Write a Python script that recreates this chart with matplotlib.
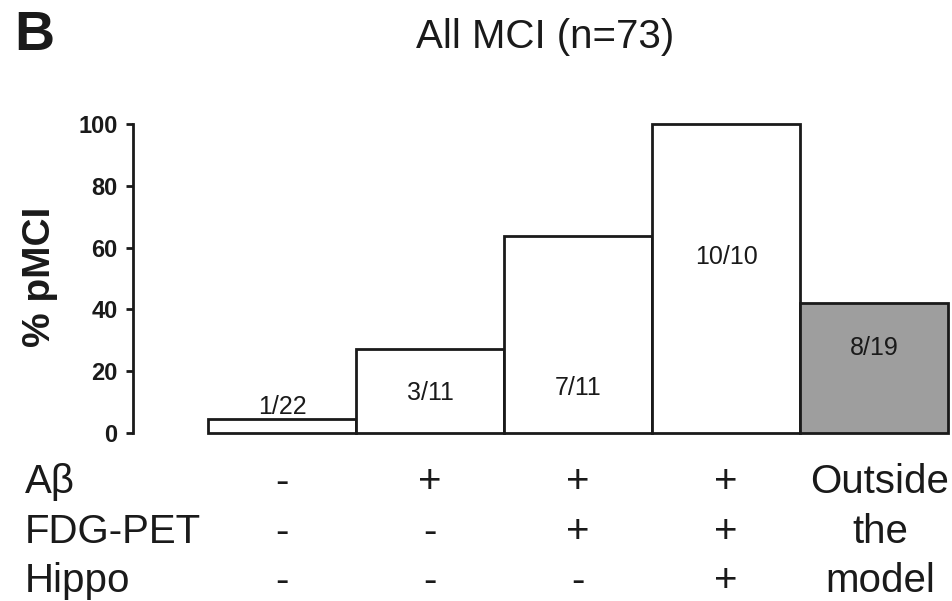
import numpy as np
import matplotlib
matplotlib.use('Agg')
import matplotlib.pyplot as plt
import matplotlib.transforms as transforms

plt.rcParams['font.family'] = ['Liberation Sans', 'DejaVu Sans']

##===========================================
# Data
##===========================================
groups = ['g1', 'g2', 'g3', 'g4', 'outside']
counts = ['1/22', '3/11', '7/11', '10/10', '8/19']
pct = [100 * 1 / 22, 100 * 3 / 11, 100 * 7 / 11, 100 * 10 / 10, 100 * 8 / 19]
label_y = [8.5, 13, 14.5, 57, 27.5]          # where the count text sits (% units)
bar_colors = ['white', 'white', 'white', 'white', '#9e9e9e']

row_names = ['A\u03b2', 'FDG-PET', 'Hippo']
amyloid = ['-', '+', '+', '+']
fdg = ['-', '-', '+', '+']
hippo = ['-', '-', '-', '+']
outside_text = ['Outside', 'the', 'model']

##===========================================
# Figure
##===========================================
fig = plt.figure(figsize=(9.53, 6.01), dpi=100)
ax = fig.add_axes([133 / 953, 1 - 433 / 601, 815 / 953, 309 / 601])

x = np.arange(len(groups))
ax.bar(x, pct, width=1.0, color=bar_colors, edgecolor='#1a1a1a',
       linewidth=2, clip_on=False)

for i in range(len(groups)):
    ax.text(x[i], label_y[i], counts[i], ha='center', va='center',
            fontsize=18, color='#1a1a1a')

ax.set_xlim(-1.007, 4.5)
ax.set_ylim(0, 100)
ax.set_yticks([0, 20, 40, 60, 80, 100])
ax.set_xticks([])
for s in ['top', 'right', 'bottom']:
    ax.spines[s].set_visible(False)
ax.spines['left'].set_linewidth(2)
ax.spines['left'].set_color('#1a1a1a')
ax.tick_params(axis='y', direction='out', length=5, width=2, pad=6,
               labelsize=17, colors='#1a1a1a')
for lab in ax.get_yticklabels():
    lab.set_fontweight('bold')

fig.text(40 / 953, 1 - 277 / 601, '% pMCI', rotation=90, ha='center',
         va='center', fontsize=28, fontweight='bold', color='#1a1a1a')

# title and panel letter
fig.text(545 / 953, 1 - 37 / 601, 'All MCI (n=73)', ha='center', va='center',
         fontsize=29, color='#1a1a1a')
fig.text(14 / 953, 1 - 36 / 601, 'B', ha='left', va='center',
         fontsize=40, fontweight='bold', color='#1a1a1a')

# marker table under the bars
trans = transforms.blended_transform_factory(ax.transData, fig.transFigure)
row_y = [1 - 482 / 601, 1 - 532 / 601, 1 - 581 / 601]
rows = [amyloid, fdg, hippo]
for r in range(3):
    fig.text(25 / 953, row_y[r], row_names[r], ha='left', va='center',
             fontsize=29, color='#1a1a1a')
    for i, sign in enumerate(rows[r]):
        ax.text(x[i], row_y[r], sign, transform=trans, ha='center',
                va='center', fontsize=29, color='#1a1a1a', clip_on=False)
    ax.text(x[4] + 0.04, row_y[r], outside_text[r], transform=trans,
            ha='center', va='center', fontsize=29, color='#1a1a1a',
            clip_on=False)

plt.savefig('out.png', dpi=100)
